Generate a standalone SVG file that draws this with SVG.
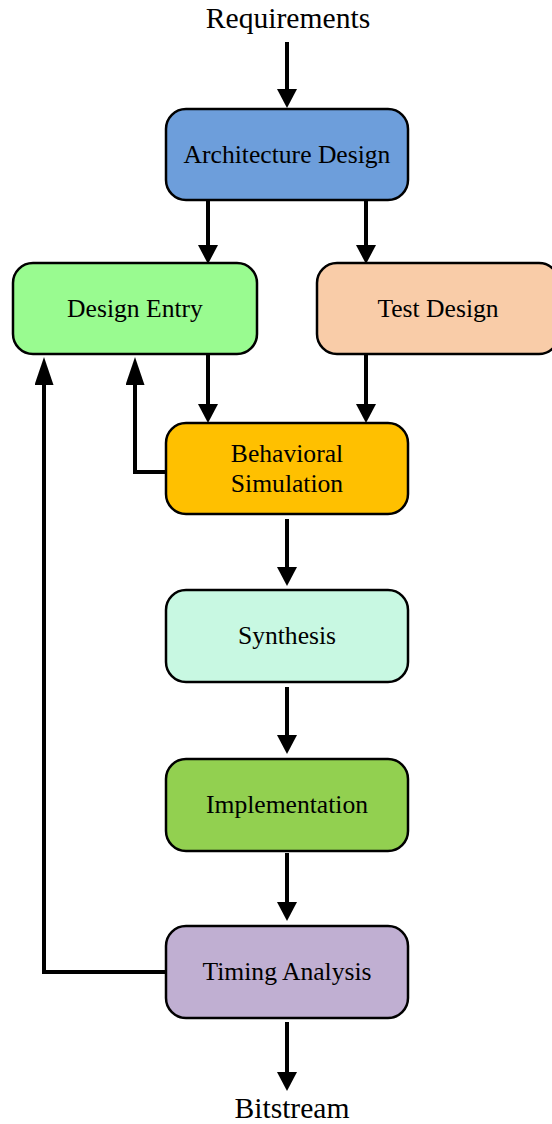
<svg xmlns="http://www.w3.org/2000/svg" width="552" height="1124" viewBox="0 0 552 1124">
  <style>
    .box { stroke: #000; stroke-width: 2.5; }
    .lbl { font-family: "Liberation Serif", "Times New Roman", serif; font-size: 25.6px; fill: #000; text-anchor: middle; }
    .io { font-family: "Liberation Serif", "Times New Roman", serif; font-size: 29.6px; fill: #000; text-anchor: middle; }
    .wire { fill: none; stroke: #000; stroke-width: 4; }
    .down { marker-end: url(#head); }
    .up { marker-end: url(#headLong); }
  </style>
  <defs>
    <marker id="head" viewBox="0 0 19 20" refX="1" refY="10" markerWidth="19" markerHeight="20" markerUnits="userSpaceOnUse" orient="auto">
      <path d="M0,0 L19,10 L0,20 z" fill="#000"/>
    </marker>
    <marker id="headLong" viewBox="0 0 28 19" refX="1" refY="9.5" markerWidth="28" markerHeight="19" markerUnits="userSpaceOnUse" orient="auto">
      <path d="M0,0 L28,9.5 L0,19 z" fill="#000"/>
    </marker>
  </defs>

  <g id="connectors">
    <path class="wire down" d="M287,42 V90"/>
    <path class="wire down" d="M208,200 V246"/>
    <path class="wire down" d="M366,200 V246"/>
    <path class="wire down" d="M208,354 V405"/>
    <path class="wire down" d="M366,354 V405"/>
    <path class="wire down" d="M287,519 V568"/>
    <path class="wire down" d="M287,687 V736"/>
    <path class="wire down" d="M287,853 V903"/>
    <path class="wire down" d="M287,1022 V1073"/>
    <path class="wire up" d="M166,472 H135 V384"/>
    <path class="wire up" d="M166,972 H44 V384"/>
  </g>

  <g id="requirements">
    <text class="io" x="288" y="28">Requirements</text>
  </g>

  <g id="architecture-design">
    <rect class="box" x="166" y="109" width="242" height="91" rx="20" fill="#6d9edb"/>
    <text class="lbl" x="287" y="163">Architecture Design</text>
  </g>

  <g id="design-entry">
    <rect class="box" x="13" y="263" width="244" height="91" rx="20" fill="#99fb90"/>
    <text class="lbl" x="135" y="317">Design Entry</text>
  </g>

  <g id="test-design">
    <rect class="box" x="317" y="263" width="242" height="91" rx="20" fill="#f9cca8"/>
    <text class="lbl" x="438" y="317">Test Design</text>
  </g>

  <g id="behavioral-simulation">
    <rect class="box" x="166" y="423" width="242" height="91" rx="20" fill="#ffc000"/>
    <text class="lbl" x="287" y="462">Behavioral</text>
    <text class="lbl" x="287" y="492">Simulation</text>
  </g>

  <g id="synthesis">
    <rect class="box" x="166" y="590" width="242" height="92" rx="20" fill="#c8f8e2"/>
    <text class="lbl" x="287" y="644">Synthesis</text>
  </g>

  <g id="implementation">
    <rect class="box" x="166" y="759" width="242" height="92" rx="20" fill="#92d050"/>
    <text class="lbl" x="287" y="813">Implementation</text>
  </g>

  <g id="timing-analysis">
    <rect class="box" x="166" y="926" width="242" height="92" rx="20" fill="#c0afd2"/>
    <text class="lbl" x="287" y="980">Timing Analysis</text>
  </g>

  <g id="bitstream">
    <text class="io" x="292" y="1118">Bitstream</text>
  </g>
</svg>
